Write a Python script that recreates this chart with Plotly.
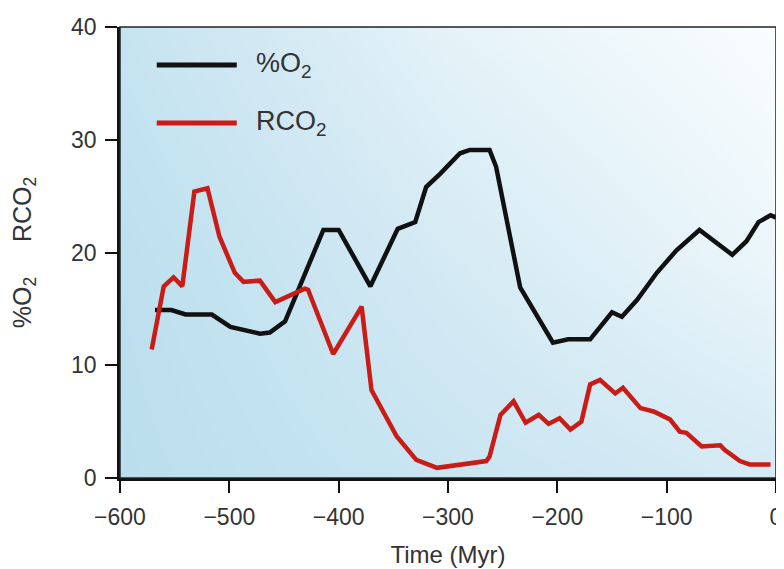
import plotly.graph_objects as go

# ---- data ----
o2_time = [-568, -553, -540, -516, -499, -472, -463, -449, -414, -400, -371, -346, -330, -320,
           -307, -289, -280, -262, -256, -234, -204, -190, -170, -150, -141, -127, -109, -91,
           -70, -40, -27, -16, -5, 0]
o2_pct = [14.9, 14.9, 14.5, 14.5, 13.4, 12.8, 12.9, 13.9, 22.0, 22.0, 17.0, 22.1, 22.7, 25.8,
          27.0, 28.8, 29.1, 29.1, 27.6, 16.9, 12.0, 12.3, 12.3, 14.7, 14.3, 15.8, 18.2, 20.2,
          22.0, 19.8, 21.0, 22.7, 23.3, 23.1]

co2_time = [-571, -560, -551, -543, -532, -520, -509, -495, -487, -472, -458, -444, -431, -428,
            -405, -379, -370, -347, -329, -310, -286, -265, -262, -252, -240, -229, -217, -208,
            -198, -188, -178, -170, -161, -147, -140, -124, -112, -97, -88, -82, -68, -51, -47,
            -33, -24, -5]
co2_r = [11.4, 17.0, 17.8, 17.0, 25.4, 25.7, 21.4, 18.2, 17.4, 17.5, 15.6, 16.2, 16.8, 16.7,
         11.0, 15.2, 7.8, 3.7, 1.6, 0.9, 1.2, 1.5, 1.9, 5.6, 6.8, 4.9, 5.6, 4.8,
         5.3, 4.3, 5.0, 8.3, 8.7, 7.5, 8.0, 6.2, 5.9, 5.2, 4.1, 4.0, 2.8, 2.9, 2.5,
         1.5, 1.2, 1.2]

x_ticks = [-600, -500, -400, -300, -200, -100, 0]
y_ticks = [0, 10, 20, 30, 40]
series_names = ["%O<sub>2</sub>", "RCO<sub>2</sub>"]
series_colors = ["#111111", "#c91c17"]

# background gradient grid (styling only)
bg_x = [-600, -300, 0]
bg_y = [0, 20, 40]
bg_z = [[0.0, 0.25, 0.45], [0.05, 0.45, 0.8], [0.2, 0.7, 1.0]]

FONT = "Liberation Sans, Arial, Helvetica, sans-serif"
TXT = "#333333"

fig = go.Figure()

fig.add_trace(go.Heatmap(
    x=bg_x, y=bg_y, z=bg_z,
    colorscale=[[0, "#badeed"], [0.5, "#d8ecf5"], [1, "#f9fdfe"]],
    zsmooth="best", showscale=False, hoverinfo="skip",
))

fig.add_trace(go.Scatter(x=o2_time, y=o2_pct, mode="lines", name=series_names[0],
                         line=dict(color=series_colors[0], width=4.5), showlegend=False))
fig.add_trace(go.Scatter(x=co2_time, y=co2_r, mode="lines", name=series_names[1],
                         line=dict(color=series_colors[1], width=4.5), showlegend=False))

axis_common = dict(
    showgrid=False, zeroline=False, showline=True, linecolor="#111111", linewidth=2.5,
    ticks="outside", ticklen=12, tickwidth=2, tickcolor="#111111",
    tickfont=dict(family=FONT, size=23, color=TXT), automargin=False,
)

fig.update_layout(
    width=784, height=569,
    margin=dict(l=112, r=16, t=19, b=99),
    paper_bgcolor="white", plot_bgcolor="white",
    font=dict(family=FONT, color=TXT),
    xaxis=dict(range=[-600, 0], tickvals=x_ticks, ticklabelstandoff=5, **axis_common,
               title=dict(text="Time (Myr)", font=dict(family=FONT, size=24, color=TXT),
                          standoff=17)),
    yaxis=dict(range=[0, 40], tickvals=y_ticks, ticklabelstandoff=4, **axis_common,
               title=dict(text="%O<sub>2</sub>&nbsp;&nbsp;&nbsp;&nbsp;&nbsp;RCO<sub>2</sub>",
                          font=dict(family=FONT, size=25, color=TXT), standoff=34)),
    shapes=[dict(type="rect", xref="paper", yref="paper", x0=0, x1=1, y0=0, y1=1,
                 line=dict(color="#222222", width=1.5), layer="above")],
)

# custom legend (swatches + labels)
legend_rows = [0.916, 0.787]
for name, color, yy in zip(series_names, series_colors, legend_rows):
    fig.add_shape(type="line", xref="paper", yref="paper", x0=0.056, x1=0.178, y0=yy, y1=yy,
                  line=dict(color=color, width=5))
    fig.add_annotation(xref="paper", yref="paper", x=0.205, y=yy, xanchor="left", yanchor="middle",
                       text=name, showarrow=False,
                       font=dict(family=FONT, size=27, color=TXT))

fig.write_html("out.html")
